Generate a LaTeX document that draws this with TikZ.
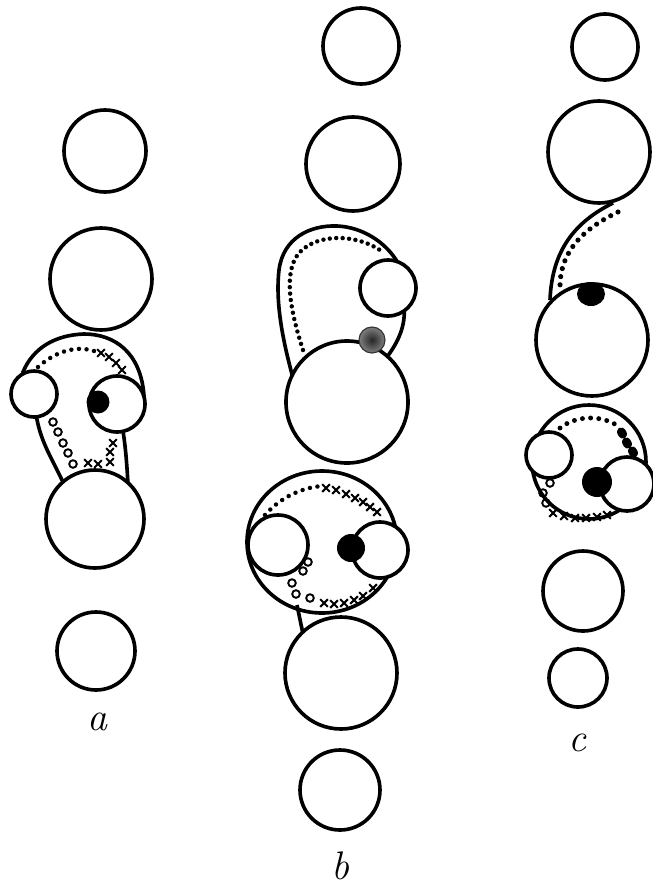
\documentclass[tikz,border=0pt]{standalone}
\usepackage{tikz}

\tikzset{
  wall/.style={line width=3.1pt},
  cellc/.style={wall, fill=white},
  stipple/.style={line width=3.8pt, line cap=round, dash pattern=on 0pt off 6.5pt},
  xcross/.pic={\draw[line width=1.8pt] (-3.8,-3.8) -- (3.8,3.8) (-3.8,3.8) -- (3.8,-3.8);},
  ring/.pic={\draw[line width=1.6pt] (0,0) circle (3.8);},
  letter/.style={font=\fontsize{34}{40}\selectfont\itshape, inner sep=0pt}
}

\begin{document}
\begin{tikzpicture}[x=0.03cm, y=-0.03cm]
  \useasboundingbox (0,0) rectangle (653,891);

  % --- a ---
  \draw[wall] (105,151) circle (41);
  \draw[wall] (101,279) circle (51);
  \draw[wall] (34,394) -- (23,372) .. controls (33,348) and (55,335) .. (84,334)
    .. controls (114,334) and (141,352) .. (144,396) -- (117,404) -- (123,431)
    .. controls (126,450) and (127,468) .. (128,484) -- (95,519) -- (62,480)
    .. controls (50,455) and (40,440) .. (36,414) -- cycle;
  \draw[stipple] (38,367) .. controls (55,352) and (75,345) .. (94,351);
  \path pic at (101,353) {xcross} pic at (109,357) {xcross}
        pic at (116,363) {xcross} pic at (122,370) {xcross};
  \path pic at (53,422) {ring} pic at (58,432) {ring} pic at (63,443) {ring}
        pic at (68,453) {ring} pic at (73,464) {ring};
  \path pic at (113,443) {xcross} pic at (110,452) {xcross} pic at (110,462) {xcross}
        pic at (98,464) {xcross} pic at (88,463) {xcross};
  \draw[cellc] (34,394) circle (23);
  \draw[cellc] (117,404) circle (28);
  \fill (98,402) circle (11.5);
  \draw[cellc] (95,519) circle (49);
  \draw[wall] (96,651) circle (39);
  \node[letter] (lab-a) at (97,722) {a};

  % --- b ---
  \draw[wall] (361,46) circle (38);
  \draw[wall] (353,164) circle (47);
  \draw[wall] (347,402) -- (293,378) .. controls (284,345) and (275,305) .. (279,270)
    .. controls (283,238) and (310,225) .. (337,226)
    .. controls (362,227) and (386,242) .. (398,263) -- (388,288) -- (404,306)
    .. controls (406,326) and (398,342) .. (387,357) -- cycle;
  \draw[stipple, dash pattern=on 0pt off 5.5pt] (303,350) .. controls (290,310) and (283,272) .. (299,253)
    .. controls (318,232) and (360,234) .. (384,253);
  \draw[cellc] (388,288) circle (28);
  \draw[cellc] (347,402) circle (61);
  \shade[inner color=black!85, outer color=gray] (372,340) circle (13);
  \draw[gray!40!black, line width=1pt] (372,340) circle (13);

  \draw[wall] (322,542) ellipse [x radius=75, y radius=71];
  \draw[wall] (297,605) -- (303,634);
  \draw[stipple] (265,515) .. controls (280,498) and (300,488) .. (322,486);
  \path pic at (326,488) {xcross} pic at (336,490) {xcross} pic at (346,494) {xcross}
        pic at (355,498) {xcross} pic at (363,502) {xcross} pic at (370,507) {xcross}
        pic at (377,512) {xcross};
  \path pic at (308,562) {ring} pic at (303,571) {ring} pic at (292,583) {ring}
        pic at (296,594) {ring} pic at (310,598) {ring};
  \path pic at (324,603) {xcross} pic at (334,604) {xcross} pic at (344,603) {xcross}
        pic at (354,600) {xcross} pic at (363,596) {xcross} pic at (373,588) {xcross};
  \draw[cellc] (278,545) circle (30);
  \draw[cellc] (380,550) circle (28);
  \fill (351,548) circle (14);
  \draw[cellc] (341,673) circle (56);
  \draw[wall] (340,790) circle (40);
  \node[letter] (lab-b) at (340,866) {b};

  % --- c ---
  \draw[wall] (605,47) circle (33);
  \draw[wall] (599,152) circle (51);
  \draw[wall] (613,203) .. controls (575,222) and (552,250) .. (550,300);
  \draw[stipple, line width=4.4pt, dash pattern=on 0pt off 7pt] (618,212) .. controls (585,228) and (560,250) .. (560,287);
  \draw[cellc] (592,340) circle (56);
  \fill (591,294) ellipse [x radius=14, y radius=12];

  \draw[wall] (589,462) circle (57);
  \draw[stipple, line width=4.2pt, dash pattern=on 0pt off 7pt] (560,428) .. controls (575,416) and (600,414) .. (618,426);
  \fill[rotate around={30:(622,433)}] (622,433) ellipse [x radius=4.5, y radius=6];
  \fill[rotate around={30:(627,443)}] (627,443) ellipse [x radius=4.5, y radius=6];
  \fill[rotate around={30:(633,452)}] (633,452) ellipse [x radius=4.5, y radius=6];
  \path pic at (550,483) {ring} pic at (543,493) {ring} pic at (546,503) {ring};
  \path pic at (553,513) {xcross} pic at (564,516) {xcross} pic at (575,518) {xcross}
        pic at (586,518) {xcross} pic at (597,517) {xcross} pic at (607,515) {xcross};
  \draw[cellc] (549,455) circle (23);
  \draw[cellc] (627,484) circle (27);
  \fill (597,482) circle (15);
  \draw[wall] (583,591) circle (40);
  \draw[wall] (578,678) circle (29);
  \node[letter] (lab-c) at (577,743) {c};
\end{tikzpicture}
\end{document}
